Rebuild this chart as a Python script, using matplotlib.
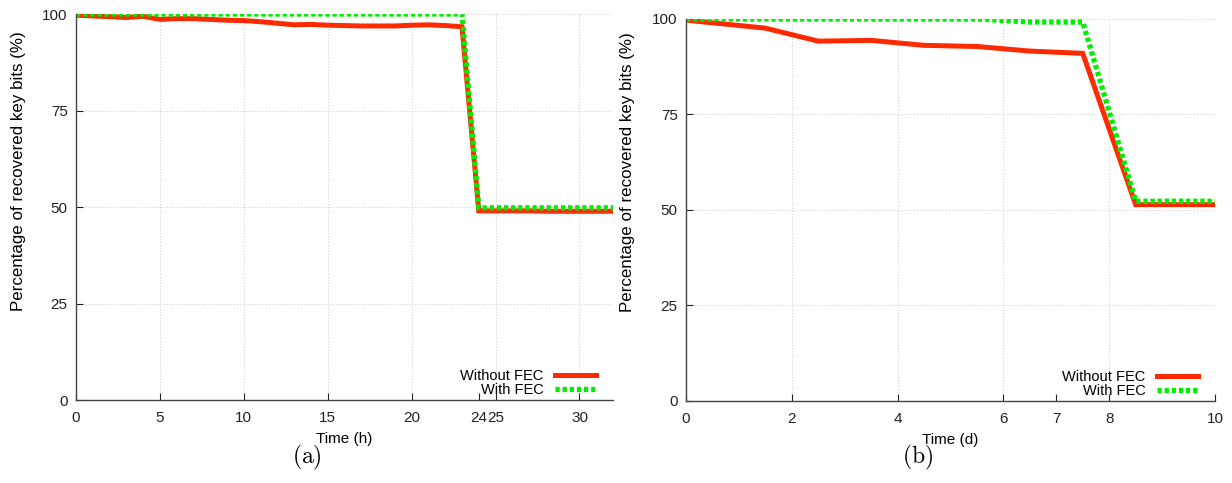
import matplotlib
matplotlib.use("Agg")
import matplotlib.pyplot as plt

plt.rcParams['font.family'] = ['Liberation Sans', 'DejaVu Sans']
plt.rcParams['mathtext.fontset'] = 'cm'

# (a) recovered key bits over hours
hours = [0, 1, 2, 3, 4, 5, 6, 7, 8, 9, 10, 11, 12, 13, 14, 15, 16,
         17, 18, 19, 20, 21, 22, 23, 24, 25, 26, 27, 28, 29, 30, 31, 32]
a_without = [99.7, 99.5, 99.3, 99.1, 99.4, 98.6, 98.8, 98.8, 98.6, 98.4, 98.3,
             98.0, 97.6, 97.2, 97.3, 97.1, 97.0, 96.9, 96.9, 96.9, 97.1, 97.2,
             97.0, 96.7, 49.0, 49.0, 49.0, 49.0, 48.9, 48.9, 48.9, 48.9, 48.9]
a_with = [100] * 24 + [49.8] * 9

# (b) recovered key bits over days
days = [0, 1.5, 2.5, 3.5, 4.5, 5.5, 6.5, 7.5, 8.5, 10]
b_without = [99.7, 97.6, 94.2, 94.4, 93.1, 92.8, 91.6, 91.0, 51.4, 51.4]
b_with = [100, 100, 100, 100, 100, 100, 99.2, 99.2, 52.3, 52.3]

a_ticks = [0, 5, 10, 15, 20, 24, 25, 30]
a_grid = [0, 5, 10, 15, 20, 25, 30]
b_ticks = [0, 2, 4, 6, 7, 8, 10]
b_grid = [0, 2, 4, 6, 8, 10]
y_ticks = [0, 25, 50, 75, 100]

red = '#ff2a00'
green = '#00ee00'

fig = plt.figure(figsize=(12.32, 4.83), dpi=100)
ax1 = fig.add_axes([0.0617, 0.1718, 0.4359, 0.7992])
ax2 = fig.add_axes([0.5568, 0.1698, 0.4294, 0.7909])


def style(ax, x, ywo, yw, xmax, ticks, grid, xlabel, ylab_y):
    ax.plot(x, ywo, color=red, lw=3.6, label='Without FEC', solid_joinstyle='miter')
    ax.plot(x, yw, color=green, lw=3.8, ls=(0, (0.8, 0.55)), label='With FEC')
    ax.set_xlim(0, xmax)
    ax.set_ylim(0, 100)
    ax.set_xticks(ticks)
    ax.set_yticks(y_ticks)
    for g in grid:
        ax.axvline(g, color='#cccccc', lw=0.7, ls=(0, (1, 2)), zorder=0)
    for g in y_ticks:
        ax.axhline(g, color='#cccccc', lw=0.7, ls=(0, (1, 2)), zorder=0)
    ax.spines['top'].set_visible(False)
    ax.spines['right'].set_visible(False)
    for s in ('left', 'bottom'):
        ax.spines[s].set_color('#444444')
        ax.spines[s].set_linewidth(1.0)
    ax.tick_params(direction='in', length=5, labelsize=11, colors='#222222')
    ax.tick_params(axis='x', pad=8)
    ax.tick_params(axis='y', pad=6)
    ax.set_xlabel(xlabel, fontsize=11, labelpad=5)
    ax.set_ylabel('Percentage of recovered key bits (%)', fontsize=12.2, labelpad=12)
    ax.yaxis.label.set_y(ylab_y)
    ax.legend(loc='lower right', bbox_to_anchor=(0.968, 0.008), frameon=False,
              markerfirst=False, fontsize=10.5, handlelength=2.8,
              handletextpad=0.8, labelspacing=0.0, borderpad=0,
              borderaxespad=0)


style(ax1, hours, a_without, a_with, 32, a_ticks, a_grid, 'Time (h)', 0.593)
style(ax2, days, b_without, b_with, 10, b_ticks, b_grid, 'Time (d)', 0.60)

fig.text(0.249, 0.052, r'$\mathrm{(a)}$', fontsize=17, ha='center', va='center')
fig.text(0.745, 0.052, r'$\mathrm{(b)}$', fontsize=17, ha='center', va='center')

fig.savefig('out.png', dpi=100)
